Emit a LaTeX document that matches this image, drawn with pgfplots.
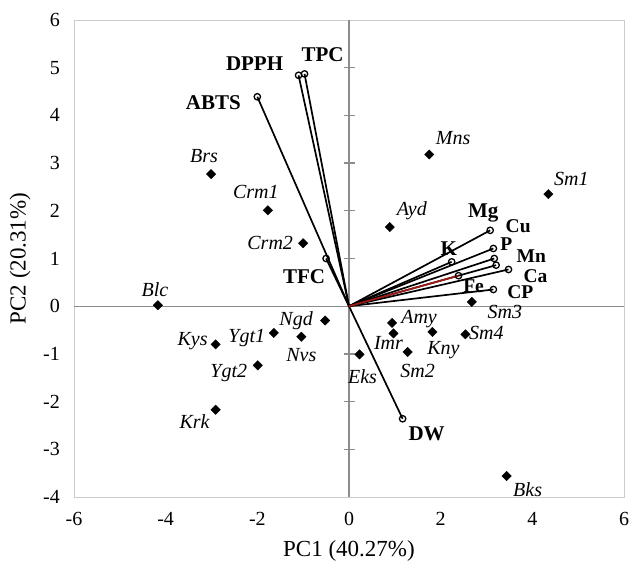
\documentclass[border=0pt]{standalone}
\usepackage{fontspec}
\setmainfont{Liberation Serif}
\usepackage{pgfplots}
\pgfplotsset{compat=1.18}
\usepackage{pgfplotstable}

% PCA scores (x, y) and label offsets in pt
\pgfplotstableread{
x y name lx ly
-3.01 2.77 Brs -7 18
-1.77 2.01 Crm1 -12 18
-1.00 1.32 Crm2 -33 0
-4.17 0.02 Blc -3 16
-2.91 -0.80 Kys -23 3
-1.64 -0.56 Ygt1 -27 -5
-0.52 -0.30 Ngd -29 0
-1.04 -0.64 Nvs 0 -18
-1.99 -1.24 Ygt2 -29 -8
-2.91 -2.17 Krk -21 -12
0.94 -0.35 Amy 27 4
0.97 -0.57 Imr -5 -10
1.82 -0.54 Kny 11 -18
2.54 -0.59 Sm4 21 1
1.28 -0.96 Sm2 10 -19
0.23 -1.01 Eks 3 -22
3.44 -3.56 Bks 21 -14
2.68 0.09 Sm3 33 -10
0.89 1.66 Ayd 22 16
1.75 3.18 Mns 24 16
4.35 2.35 Sm1 23 15
}\scores

\tikzset{
  lab/.style={font=\bfseries\fontsize{21}{25}\selectfont, inner sep=0pt, anchor=center},
  labs/.style={font=\bfseries\fontsize{19.5}{23}\selectfont, inner sep=0pt, anchor=center},
}
\pgfplotsset{
  vec/.style={black, line width=1.7pt, mark=o, mark indices={2},
    mark size=3.2pt, mark options={line width=1.3pt, fill=white}},
}

\begin{document}
\begin{tikzpicture}
\begin{axis}[
  scale only axis, width=550pt, height=477pt,
  xmin=-6, xmax=6, ymin=-4, ymax=6,
  xtick={-6,-4,...,6}, ytick={-4,...,6},
  xticklabels={-6,-4,-2,0,2,4,6},
  yticklabels={-4,-3,-2,-1,0,1,2,3,4,5,6},
  major tick length=0pt,
  axis line style={draw=black!20, line width=0.9pt},
  tick label style={font=\fontsize{20}{24}\selectfont, inner sep=0pt},
  xticklabel style={yshift=-15pt},
  yticklabel style={xshift=-14pt},
  xlabel={PC1 (40.27\%)}, ylabel={PC2 (20.31\%)},
  label style={font=\fontsize{23}{27}\selectfont},
  xlabel style={at={(axis description cs:0.5,-0.1132)}, anchor=center},
  ylabel style={at={(axis description cs:-0.0982,0.5)}, anchor=center},
  clip=false,
]
% zero lines with cross ticks
\draw[black!45, line width=1.2pt] (axis cs:0,-4) -- (axis cs:0,6);
\draw[black!45, line width=1.2pt] (axis cs:-6,0) -- (axis cs:6,0);
\pgfplotsinvokeforeach{-3,...,5}{
  \draw[black!45, line width=1.2pt] ([xshift=-5.5pt]axis cs:0,#1) -- ([xshift=5.5pt]axis cs:0,#1);
}

% loadings
\addplot[vec] coordinates {(0,0) (-2.00,4.39)} node[pos=1, lab, xshift=-44pt, yshift=-6pt] {ABTS};
\addplot[vec] coordinates {(0,0) (-1.10,4.84)} node[pos=1, lab, xshift=-44pt, yshift=12pt] {DPPH};
\addplot[vec] coordinates {(0,0) (-0.97,4.87)} node[pos=1, lab, xshift=18pt, yshift=19pt] {TPC};
\addplot[vec] coordinates {(0,0) (-0.50,1.00)} node[pos=1, lab, xshift=-22pt, yshift=-18pt] {TFC};
\addplot[vec] coordinates {(0,0) (1.17,-2.36)} node[pos=1, lab, xshift=24pt, yshift=-15pt] {DW};
\addplot[vec] coordinates {(0,0) (3.08,1.59)} node[pos=1, lab, xshift=-7pt, yshift=17pt] {Mg}
  node[pos=1, labs, xshift=28pt, yshift=4pt] {Cu};
\addplot[vec] coordinates {(0,0) (3.15,1.21)} node[pos=1, labs, xshift=13pt, yshift=4pt] {P};
\addplot[vec] coordinates {(0,0) (3.17,1.00)} node[pos=1, labs, xshift=37pt, yshift=2pt] {Mn};
\addplot[vec] coordinates {(0,0) (3.21,0.86)};
\addplot[vec] coordinates {(0,0) (3.48,0.77)} node[pos=1, labs, xshift=27pt, yshift=-7pt] {Ca};
\addplot[vec] coordinates {(0,0) (3.15,0.35)} node[pos=1, labs, xshift=27pt, yshift=-3pt] {CP};
\addplot[vec] coordinates {(0,0) (2.24,0.93)} node[pos=1, lab, xshift=-3pt, yshift=13pt] {K};
\addplot[vec, draw={rgb,255:red,160;green,25;blue,25}, mark options={draw=black, line width=1.3pt, fill=white}]
  coordinates {(0,0) (2.39,0.64)} node[pos=1, labs, xshift=15pt, yshift=-11pt] {Fe};

% scores
\addplot[only marks, mark=square*, mark size=3.3pt,
  mark options={rotate=45, fill=black, draw=black},
  point meta=explicit symbolic, nodes near coords,
  visualization depends on={\thisrow{lx}\as\lx},
  visualization depends on={\thisrow{ly}\as\ly},
  every node near coord/.append style={anchor=center, inner sep=0pt,
    xshift=\lx pt, yshift=\ly pt, font=\itshape\fontsize{20}{24}\selectfont}]
  table[x=x, y=y, meta=name] {\scores};
\end{axis}
\path ([shift={(-74pt,-68pt)}]current axis.south west) rectangle ([shift={(9pt,20pt)}]current axis.north east);
\end{tikzpicture}
\end{document}
